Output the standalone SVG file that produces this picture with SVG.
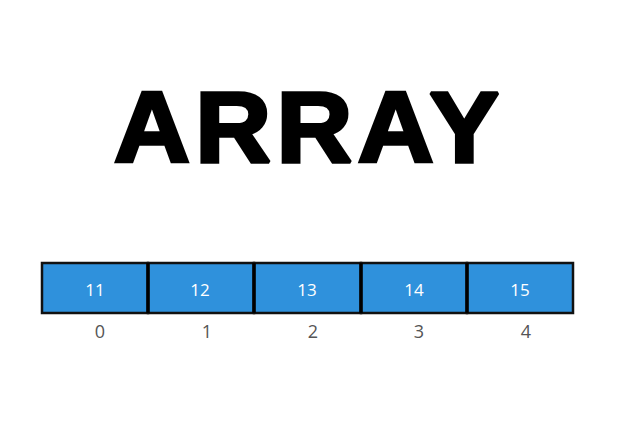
<svg xmlns="http://www.w3.org/2000/svg" width="617" height="428" viewBox="0 0 617 428">
<style>
.title{font-family:"Liberation Sans",Arial,sans-serif;font-weight:bold;font-size:100px;fill:#000;stroke:#000;stroke-width:3.5px;stroke-linejoin:miter;stroke-miterlimit:2}
.cell{fill:#2f91dc;stroke:#111;stroke-width:2.5}
.div{stroke:#000;stroke-width:3.5}
.val{font-family:"Open Sans","Noto Sans",sans-serif;font-size:17px;fill:#fff;text-anchor:middle}
.idx{font-family:"Open Sans","Noto Sans",sans-serif;font-size:18px;fill:#555;text-anchor:middle}
</style>
<rect width="617" height="428" fill="#fff"/>
<g transform="translate(114 0) scale(1.05 1) translate(-114 0)">
<text class="title" x="114" y="162" textLength="367" lengthAdjust="spacing">ARRAY</text>
</g>
<g id="cell0"><rect class="cell" x="42" y="263" width="106" height="50"/><text class="val" x="95" y="296">11</text><text class="idx" x="100" y="338">0</text></g>
<g id="cell1"><rect class="cell" x="148" y="263" width="106" height="50"/><text class="val" x="200" y="296">12</text><text class="idx" x="207" y="338">1</text></g>
<g id="cell2"><rect class="cell" x="254" y="263" width="107" height="50"/><text class="val" x="307" y="296">13</text><text class="idx" x="313" y="338">2</text></g>
<g id="cell3"><rect class="cell" x="361" y="263" width="106" height="50"/><text class="val" x="414" y="296">14</text><text class="idx" x="419" y="338">3</text></g>
<g id="cell4"><rect class="cell" x="467" y="263" width="106" height="50"/><text class="val" x="520" y="296">15</text><text class="idx" x="526" y="338">4</text></g>
<g id="connectors">
<line class="div" x1="148" y1="263" x2="148" y2="313"/>
<line class="div" x1="254" y1="263" x2="254" y2="313"/>
<line class="div" x1="361" y1="263" x2="361" y2="313"/>
<line class="div" x1="467" y1="263" x2="467" y2="313"/>
</g>
</svg>
